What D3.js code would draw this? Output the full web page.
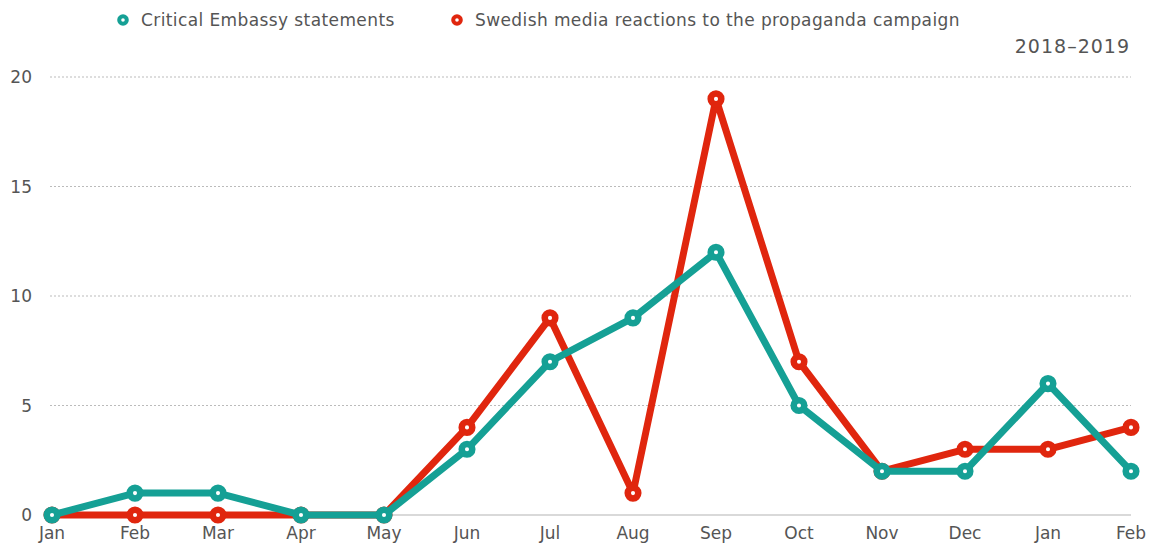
<!DOCTYPE html>
<html>
<head>
<meta charset="utf-8">
<script src="https://cdn.jsdelivr.net/npm/d3@7"></script>
<style>
  body { margin: 0; background: #fff; }
  text { font-family: Verdana, "DejaVu Sans", sans-serif; fill: #555; }
</style>
</head>
<body>
<div id="chart"></div>
<script>
var months = ["Jan", "Feb", "Mar", "Apr", "May", "Jun", "Jul", "Aug", "Sep", "Oct", "Nov", "Dec", "Jan", "Feb"];
var embassy = [0, 1, 1, 0, 0, 3, 7, 9, 12, 5, 2, 2, 6, 2];
var media = [0, 0, 0, 0, 0, 4, 9, 1, 19, 7, 2, 3, 3, 4];
var yTicks = [0, 5, 10, 15, 20];

var width = 1152, height = 544;
var svg = d3.select("#chart").append("svg")
    .attr("width", width)
    .attr("height", height);

var x = d3.scalePoint()
    .domain(d3.range(months.length))
    .range([52, 1131]);

var y = d3.scaleLinear()
    .domain([0, 20])
    .range([515, 77]);

// grid
svg.selectAll(".grid")
    .data(yTicks.filter(d => d > 0))
    .enter()
    .append("line")
    .attr("x1", 50)
    .attr("x2", 1131)
    .attr("y1", d => y(d))
    .attr("y2", d => y(d))
    .attr("stroke", "#bbb")
    .attr("stroke-width", 1)
    .attr("stroke-dasharray", "2,2");

svg.append("line")
    .attr("x1", 50)
    .attr("x2", 1131)
    .attr("y1", y(0))
    .attr("y2", y(0))
    .attr("stroke", "#ccc")
    .attr("stroke-width", 1.5);

svg.selectAll(".ylab")
    .data(yTicks)
    .enter()
    .append("text")
    .attr("x", 32)
    .attr("y", d => y(d) + 6)
    .attr("text-anchor", "end")
    .style("font-size", "17px")
    .text(d => d);

svg.selectAll(".xlab")
    .data(months)
    .enter()
    .append("text")
    .attr("x", (d, i) => x(i))
    .attr("y", 539)
    .attr("text-anchor", "middle")
    .style("font-size", "17px")
    .text(d => d);

var line = d3.line()
    .x((d, i) => x(i))
    .y(d => y(d));

function drawSeries(values, color) {
    svg.append("path")
        .datum(values)
        .attr("d", line)
        .attr("fill", "none")
        .attr("stroke", color)
        .attr("stroke-width", 7)
        .attr("stroke-linejoin", "round");

    svg.selectAll(null)
        .data(values)
        .enter()
        .append("circle")
        .attr("cx", (d, i) => x(i))
        .attr("cy", d => y(d))
        .attr("r", 5.3)
        .attr("fill", "#fff")
        .attr("stroke", color)
        .attr("stroke-width", 6.5);
}

var teal = "#15a095";
var red = "#e0260e";

drawSeries(media, red);
drawSeries(embassy, teal);

// legend
var legend = [
    {name: "Critical Embassy statements", color: teal, x: 123},
    {name: "Swedish media reactions to the propaganda campaign", color: red, x: 457}
];

var lg = svg.selectAll(".legend")
    .data(legend)
    .enter()
    .append("g")
    .attr("transform", d => "translate(" + d.x + ",20)");

lg.append("circle")
    .attr("r", 3.8)
    .attr("fill", "#fff")
    .attr("stroke", d => d.color)
    .attr("stroke-width", 4);

lg.append("text")
    .attr("x", 18)
    .attr("y", 6)
    .style("font-size", "17px")
    .style("letter-spacing", "0.4px")
    .text(d => d.name);

svg.append("text")
    .attr("x", 1130)
    .attr("y", 53)
    .attr("text-anchor", "end")
    .style("font-size", "19px")
    .style("letter-spacing", "1px")
    .text("2018–2019");
</script>
</body>
</html>
